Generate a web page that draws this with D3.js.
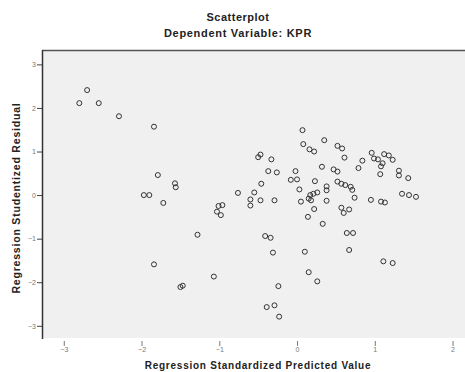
<!DOCTYPE html>
<html>
<head>
<meta charset="utf-8">
<script src="https://cdnjs.cloudflare.com/ajax/libs/d3/7.8.5/d3.min.js"></script>
<style>
  body { margin: 0; background: #fff; }
  text { font-family: "Liberation Sans", Arial, sans-serif; }
</style>
</head>
<body>
<div id="chart"></div>
<script>
// standardized predicted value (x) and studentized residual (y)
var predicted = [
  -2.70, -2.80, -2.55, -2.29, -1.84, -1.79, -1.57, -1.56, -1.97, -1.90,
  -1.72, -1.01, -0.96, -1.03, -0.98, -1.28, -1.84, -1.07, -1.50, -1.47,
  -0.76, -0.55, -0.60, -0.60, -0.47, -0.29, -0.46, -0.50, -0.47, -0.33,
  -0.37, -0.26, -0.02, -0.08, 0.00, 0.03, 0.05, 0.14, -0.41, -0.34,
  -0.31, -0.24, -0.39, -0.29, -0.23, 0.07, 0.08, 0.16, 0.22, 0.35,
  0.52, 0.58, 0.61, 0.32, 0.47, 0.52, 0.23, 0.38, 0.38, 0.38,
  0.17, 0.21, 0.26, 0.15, 0.18, 0.52, 0.57, 0.62, 0.69, 0.71,
  0.74, 0.22, 0.57, 0.60, 0.67, 0.33, 0.64, 0.72, 0.67, 0.10,
  0.15, 0.26, 1.11, 1.23, 0.95, 1.08, 1.13, 1.35, 1.44, 1.53,
  0.96, 0.99, 1.04, 1.12, 1.18, 1.23, 1.10, 1.08, 1.07, 0.84,
  0.79, 1.31, 1.31, 1.43
];
var residual = [
  2.41, 2.11, 2.11, 1.81, 1.57, 0.46, 0.27, 0.18, 0.00, 0.00,
  -0.18, -0.25, -0.23, -0.38, -0.46, -0.91, -1.59, -1.87, -2.11, -2.08,
  0.05, 0.06, -0.10, -0.24, -0.12, -0.12, 0.26, 0.87, 0.93, 0.82,
  0.55, 0.52, 0.55, 0.35, 0.36, 0.13, -0.15, -0.50, -0.94, -0.98,
  -1.32, -2.09, -2.57, -2.53, -2.79, 1.49, 1.17, 1.05, 1.00, 1.26,
  1.13, 1.07, 0.86, 0.65, 0.59, 0.54, 0.32, 0.20, 0.11, -0.13,
  0.00, 0.03, 0.06, -0.08, -0.12, 0.31, 0.26, 0.23, 0.19, 0.12,
  -0.06, -0.32, -0.29, -0.41, -0.33, -0.66, -0.87, -0.87, -1.26, -1.30,
  -1.77, -1.98, -1.52, -1.56, -0.11, -0.15, -0.17, 0.03, 0.00, -0.04,
  0.97, 0.84, 0.82, 0.94, 0.91, 0.81, 0.73, 0.66, 0.48, 0.79,
  0.62, 0.56, 0.45, 0.39
];
var xTicks = [-3, -2, -1, 0, 1, 2];
var yTicks = [3, 2, 1, 0, -1, -2, -3];
var xDomain = [-3.28, 2.16];
var yDomain = [-3.28, 3.33];

var width = 465, height = 372;
var plot = { left: 42, top: 50, right: 465, bottom: 338 };

var svg = d3.select("#chart").append("svg")
  .attr("width", width)
  .attr("height", height);

var x = d3.scaleLinear().domain(xDomain).range([plot.left, plot.right]);
var y = d3.scaleLinear().domain(yDomain).range([plot.bottom, plot.top]);

// plot background
svg.append("rect")
  .attr("x", plot.left)
  .attr("y", plot.top)
  .attr("width", plot.right - plot.left)
  .attr("height", plot.bottom - plot.top)
  .style("fill", "#f0f0f0");

svg.append("line")
  .attr("x1", plot.left).attr("x2", plot.right)
  .attr("y1", plot.top + 0.5).attr("y2", plot.top + 0.5)
  .style("stroke", "#555").style("stroke-width", 1.3);

// axes
var yAxis = d3.axisLeft(y).tickValues(yTicks).tickSize(5).tickPadding(1)
  .tickFormat(d3.format("d"));
var gy = svg.append("g")
  .attr("transform", "translate(" + plot.left + ",0)")
  .call(yAxis);
gy.select(".domain").remove();
gy.selectAll(".tick line").style("stroke", "#444");
gy.selectAll(".tick text").style("font-size", "7px").style("fill", "#777");

svg.append("line")
  .attr("x1", plot.left + 0.5).attr("x2", plot.left + 0.5)
  .attr("y1", plot.top).attr("y2", plot.bottom + 1)
  .style("stroke", "#333").style("stroke-width", 1.5);

var xAxis = d3.axisBottom(x).tickValues(xTicks).tickSize(5).tickPadding(1)
  .tickFormat(d3.format("d"));
var gx = svg.append("g")
  .attr("transform", "translate(0," + (plot.bottom + 3) + ")")
  .call(xAxis);
gx.select(".domain").remove();
gx.selectAll(".tick line").style("stroke", "#777");
gx.selectAll(".tick text").style("font-size", "7px").style("fill", "#777");

// points
svg.selectAll(".dot")
  .data(predicted)
  .enter().append("circle")
  .attr("class", "dot")
  .attr("cx", d => x(d))
  .attr("cy", (d, i) => y(residual[i]))
  .attr("r", 2.5)
  .style("fill", "none")
  .style("stroke", "#333")
  .style("stroke-width", 1);

// titles
svg.append("text")
  .attr("x", 238).attr("y", 21)
  .attr("text-anchor", "middle")
  .style("font-size", "11px").style("font-weight", "bold")
  .style("letter-spacing", "0.5px")
  .style("fill", "#222")
  .text("Scatterplot");

svg.append("text")
  .attr("x", 238).attr("y", 37)
  .attr("text-anchor", "middle")
  .style("font-size", "11px").style("font-weight", "bold")
  .style("letter-spacing", "0.7px")
  .style("fill", "#222")
  .text("Dependent Variable: KPR");

svg.append("text")
  .attr("x", 258).attr("y", 369)
  .attr("text-anchor", "middle")
  .style("font-size", "10px").style("font-weight", "bold")
  .style("letter-spacing", "0.75px")
  .style("fill", "#222")
  .text("Regression Standardized Predicted Value");

svg.append("text")
  .attr("transform", "translate(20,198) rotate(-90)")
  .attr("text-anchor", "middle")
  .style("font-size", "10.5px").style("font-weight", "bold")
  .style("letter-spacing", "0.8px")
  .style("fill", "#222")
  .text("Regression Studentized Residual");
</script>
</body>
</html>
